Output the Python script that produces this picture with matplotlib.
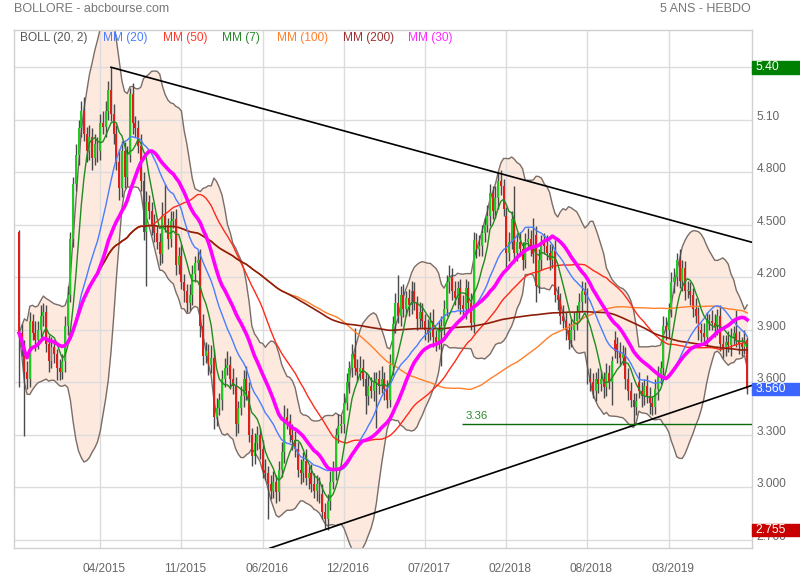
import numpy as np
import pandas as pd
import matplotlib
matplotlib.use("Agg")
import matplotlib.pyplot as plt
from matplotlib.patches import Rectangle
from matplotlib.transforms import blended_transform_factory

plt.rcParams['font.family'] = ['Liberation Sans', 'DejaVu Sans']

# weekly candles (5 ans - hebdo)
opens = [
    4.46, 3.88, 3.80, 3.66, 3.62, 3.95, 3.88, 3.84, 3.90, 3.98,
    4.00, 3.82, 3.72, 3.80, 3.76, 3.68, 3.66, 3.72, 3.92, 4.10,
    4.42, 4.73, 4.90, 5.05, 5.15, 5.02, 4.92, 5.00, 4.88, 4.96,
    4.92, 5.08, 5.06, 5.15, 5.27, 5.13, 5.02, 4.86, 4.71, 4.92,
    4.77, 4.90, 5.25, 5.08, 5.05, 4.95, 4.75, 4.46, 4.63, 4.58,
    4.50, 4.45, 4.40, 4.33, 4.55, 4.50, 4.42, 4.52, 4.53, 4.27,
    4.32, 4.17, 4.12, 4.05, 4.10, 4.22, 4.28, 4.30, 3.92, 3.75,
    3.78, 3.70, 3.74, 3.40, 3.45, 3.50, 3.62, 3.68, 3.70, 3.62,
    3.58, 3.36, 3.45, 3.52, 3.62, 3.55, 3.30, 3.18, 3.25, 3.30,
    3.22, 3.10, 3.08, 3.02, 2.98, 3.03, 2.97, 3.10, 3.20, 3.40,
    3.38, 3.30, 3.27, 3.22, 3.10, 3.08, 3.15, 3.05, 3.08, 3.02,
    2.98, 3.02, 2.96, 2.86, 2.82, 2.92, 3.03, 3.10, 3.30, 3.35,
    3.36, 3.48, 3.60, 3.68, 3.76, 3.68, 3.66, 3.68, 3.62, 3.52,
    3.58, 3.55, 3.60, 3.62, 3.58, 3.62, 3.56, 3.50, 3.70, 3.93,
    4.05, 3.98, 4.10, 4.02, 4.08, 4.04, 4.12, 4.05, 3.96, 4.00,
    3.95, 3.90, 3.88, 3.95, 3.86, 3.83, 3.90, 3.92, 4.02, 4.17,
    4.20, 4.12, 4.08, 4.14, 4.04, 4.02, 4.14, 4.05, 3.94, 4.41,
    4.36, 4.38, 4.45, 4.50, 4.55, 4.68, 4.58, 4.65, 4.75, 4.72,
    4.55, 4.34, 4.40, 4.53, 4.34, 4.40, 4.36, 4.30, 4.40, 4.42,
    4.38, 4.44, 4.15, 4.30, 4.40, 4.38, 4.34, 4.30, 4.35, 4.10,
    4.07, 3.98, 3.95, 3.90, 3.84, 3.90, 3.95, 4.00, 4.06, 4.12,
    4.10, 3.62, 3.60, 3.55, 3.62, 3.59, 3.62, 3.57, 3.65, 3.60,
    3.84, 3.82, 3.77, 3.74, 3.76, 3.62, 3.55, 3.50, 3.46, 3.60,
    3.55, 3.52, 3.58, 3.52, 3.48, 3.46, 3.56, 3.64, 3.68, 3.92,
    3.90, 4.01, 4.17, 4.20, 4.30, 4.18, 4.25, 4.12, 4.12, 4.10,
    4.02, 3.98, 3.90, 3.88, 3.86, 3.95, 3.95, 3.94, 3.92, 3.98,
    3.82, 3.80, 3.83, 3.81, 3.86, 3.88, 3.84, 3.82, 3.80, 3.84,
]
closes = [
    3.88, 3.80, 3.66, 3.62, 3.95, 3.88, 3.84, 3.90, 3.98, 4.00,
    3.82, 3.72, 3.80, 3.76, 3.68, 3.66, 3.72, 3.92, 4.10, 4.42,
    4.73, 4.90, 5.05, 5.15, 5.02, 4.92, 5.00, 4.88, 4.96, 4.92,
    5.08, 5.06, 5.15, 5.27, 5.13, 5.02, 4.86, 4.71, 4.92, 4.77,
    4.90, 5.25, 5.08, 5.05, 4.95, 4.75, 4.46, 4.63, 4.58, 4.50,
    4.45, 4.40, 4.33, 4.55, 4.50, 4.42, 4.52, 4.53, 4.27, 4.32,
    4.17, 4.12, 4.05, 4.10, 4.22, 4.28, 4.30, 3.92, 3.75, 3.78,
    3.70, 3.74, 3.40, 3.45, 3.50, 3.62, 3.68, 3.70, 3.62, 3.58,
    3.36, 3.45, 3.52, 3.62, 3.55, 3.30, 3.18, 3.25, 3.30, 3.22,
    3.10, 3.08, 3.02, 2.98, 3.03, 2.97, 3.10, 3.20, 3.40, 3.38,
    3.30, 3.27, 3.22, 3.10, 3.08, 3.15, 3.05, 3.08, 3.02, 2.98,
    3.02, 2.96, 2.86, 2.82, 2.92, 3.03, 3.10, 3.30, 3.35, 3.36,
    3.48, 3.60, 3.68, 3.76, 3.68, 3.66, 3.68, 3.62, 3.52, 3.58,
    3.55, 3.60, 3.62, 3.58, 3.62, 3.56, 3.50, 3.70, 3.93, 4.05,
    3.98, 4.10, 4.02, 4.08, 4.04, 4.12, 4.05, 3.96, 4.00, 3.95,
    3.90, 3.88, 3.95, 3.86, 3.83, 3.90, 3.92, 4.02, 4.17, 4.20,
    4.12, 4.08, 4.14, 4.04, 4.02, 4.14, 4.05, 3.94, 4.41, 4.36,
    4.38, 4.45, 4.50, 4.55, 4.68, 4.58, 4.65, 4.75, 4.72, 4.59,
    4.34, 4.40, 4.53, 4.34, 4.40, 4.36, 4.30, 4.40, 4.42, 4.38,
    4.33, 4.15, 4.30, 4.40, 4.38, 4.34, 4.30, 4.35, 4.10, 4.07,
    3.98, 3.95, 3.90, 3.84, 3.90, 3.95, 4.00, 4.06, 4.12, 4.10,
    3.62, 3.60, 3.55, 3.62, 3.59, 3.62, 3.57, 3.65, 3.60, 3.72,
    3.78, 3.77, 3.74, 3.76, 3.62, 3.55, 3.50, 3.46, 3.49, 3.55,
    3.52, 3.58, 3.52, 3.48, 3.46, 3.56, 3.64, 3.68, 3.92, 3.90,
    4.01, 4.17, 4.20, 4.30, 4.18, 4.25, 4.12, 4.12, 4.10, 4.02,
    3.98, 3.90, 3.88, 3.86, 3.95, 3.95, 3.94, 3.92, 3.98, 3.82,
    3.80, 3.83, 3.81, 3.86, 3.88, 3.84, 3.82, 3.80, 3.84, 3.56,
]
# upper / lower shadow lengths
wick_up = [
    0.01, 0.05, 0.04, 0.06, 0.05, 0.04, 0.07, 0.05, 0.06, 0.05,
    0.04, 0.05, 0.06, 0.04, 0.03, 0.05, 0.04, 0.06, 0.05, 0.04,
    0.04, 0.06, 0.05, 0.06, 0.08, 0.04, 0.07, 0.05, 0.06, 0.04,
    0.05, 0.07, 0.06, 0.05, 0.13, 0.06, 0.05, 0.07, 0.06, 0.05,
    0.05, 0.03, 0.06, 0.04, 0.05, 0.07, 0.05, 0.06, 0.04, 0.05,
    0.06, 0.04, 0.05, 0.08, 0.18, 0.04, 0.06, 0.05, 0.06, 0.05,
    0.07, 0.05, 0.04, 0.06, 0.05, 0.04, 0.05, 0.06, 0.07, 0.05,
    0.04, 0.07, 0.05, 0.06, 0.04, 0.05, 0.06, 0.08, 0.05, 0.06,
    0.05, 0.04, 0.06, 0.05, 0.07, 0.05, 0.04, 0.06, 0.05, 0.04,
    0.05, 0.06, 0.04, 0.05, 0.06, 0.04, 0.05, 0.06, 0.07, 0.05,
    0.04, 0.06, 0.05, 0.04, 0.06, 0.05, 0.07, 0.04, 0.05, 0.06,
    0.05, 0.04, 0.06, 0.05, 0.04, 0.06, 0.05, 0.04, 0.07, 0.05,
    0.06, 0.05, 0.04, 0.06, 0.15, 0.05, 0.07, 0.05, 0.04, 0.06,
    0.05, 0.06, 0.04, 0.05, 0.07, 0.04, 0.05, 0.06, 0.05, 0.06,
    0.16, 0.05, 0.06, 0.04, 0.05, 0.06, 0.05, 0.04, 0.06, 0.05,
    0.04, 0.06, 0.05, 0.07, 0.04, 0.05, 0.06, 0.05, 0.04, 0.07,
    0.05, 0.06, 0.04, 0.05, 0.06, 0.05, 0.04, 0.06, 0.05, 0.04,
    0.06, 0.05, 0.04, 0.06, 0.05, 0.04, 0.07, 0.05, 0.06, 0.04,
    0.05, 0.06, 0.05, 0.19, 0.05, 0.06, 0.04, 0.05, 0.06, 0.05,
    0.16, 0.05, 0.06, 0.04, 0.05, 0.06, 0.05, 0.04, 0.06, 0.05,
    0.04, 0.06, 0.05, 0.04, 0.06, 0.05, 0.04, 0.05, 0.06, 0.05,
    0.04, 0.06, 0.05, 0.04, 0.06, 0.05, 0.04, 0.06, 0.05, 0.03,
    0.05, 0.04, 0.06, 0.05, 0.04, 0.06, 0.05, 0.04, 0.05, 0.06,
    0.05, 0.04, 0.06, 0.05, 0.04, 0.06, 0.05, 0.04, 0.06, 0.05,
    0.04, 0.06, 0.05, 0.04, 0.06, 0.05, 0.04, 0.06, 0.05, 0.04,
    0.06, 0.05, 0.04, 0.06, 0.05, 0.04, 0.06, 0.05, 0.04, 0.06,
    0.05, 0.04, 0.06, 0.05, 0.04, 0.13, 0.05, 0.04, 0.06, 0.02,
]
wick_dn = [
    0.31, 0.05, 0.37, 0.06, 0.05, 0.04, 0.06, 0.05, 0.04, 0.06,
    0.05, 0.06, 0.04, 0.05, 0.07, 0.05, 0.04, 0.06, 0.05, 0.04,
    0.05, 0.04, 0.06, 0.05, 0.04, 0.06, 0.05, 0.07, 0.04, 0.06,
    0.05, 0.04, 0.06, 0.05, 0.04, 0.06, 0.05, 0.07, 0.05, 0.06,
    0.05, 0.04, 0.06, 0.05, 0.04, 0.06, 0.05, 0.31, 0.05, 0.06,
    0.05, 0.04, 0.06, 0.05, 0.04, 0.06, 0.05, 0.04, 0.06, 0.05,
    0.04, 0.06, 0.05, 0.04, 0.06, 0.05, 0.04, 0.06, 0.05, 0.04,
    0.06, 0.05, 0.07, 0.05, 0.04, 0.06, 0.05, 0.04, 0.06, 0.05,
    0.07, 0.05, 0.04, 0.06, 0.05, 0.04, 0.06, 0.05, 0.04, 0.06,
    0.05, 0.04, 0.20, 0.05, 0.04, 0.06, 0.05, 0.04, 0.06, 0.05,
    0.04, 0.06, 0.05, 0.04, 0.06, 0.05, 0.04, 0.06, 0.05, 0.04,
    0.06, 0.05, 0.04, 0.06, 0.065, 0.05, 0.04, 0.06, 0.05, 0.04,
    0.05, 0.04, 0.06, 0.05, 0.04, 0.06, 0.05, 0.04, 0.10, 0.05,
    0.04, 0.06, 0.26, 0.05, 0.04, 0.06, 0.05, 0.04, 0.06, 0.05,
    0.04, 0.06, 0.05, 0.04, 0.06, 0.05, 0.04, 0.06, 0.05, 0.04,
    0.06, 0.05, 0.04, 0.06, 0.05, 0.04, 0.21, 0.05, 0.04, 0.06,
    0.05, 0.04, 0.06, 0.05, 0.04, 0.06, 0.05, 0.04, 0.06, 0.05,
    0.04, 0.06, 0.05, 0.04, 0.06, 0.05, 0.04, 0.06, 0.05, 0.04,
    0.09, 0.05, 0.04, 0.06, 0.05, 0.04, 0.06, 0.05, 0.04, 0.06,
    0.05, 0.09, 0.04, 0.06, 0.05, 0.04, 0.06, 0.05, 0.04, 0.06,
    0.05, 0.04, 0.06, 0.05, 0.04, 0.06, 0.05, 0.04, 0.06, 0.05,
    0.03, 0.05, 0.04, 0.06, 0.05, 0.04, 0.06, 0.05, 0.04, 0.13,
    0.04, 0.06, 0.05, 0.04, 0.06, 0.05, 0.04, 0.10, 0.05, 0.04,
    0.06, 0.05, 0.04, 0.06, 0.05, 0.04, 0.06, 0.05, 0.04, 0.06,
    0.05, 0.04, 0.06, 0.05, 0.04, 0.06, 0.05, 0.04, 0.06, 0.05,
    0.04, 0.06, 0.05, 0.04, 0.06, 0.05, 0.04, 0.06, 0.05, 0.04,
    0.06, 0.05, 0.04, 0.06, 0.05, 0.04, 0.06, 0.05, 0.04, 0.03,
]

date_ticks = [30, 60, 90, 120, 150, 180, 210, 240]
date_labels = ["04/2015", "11/2015", "06/2016", "12/2016",
               "07/2017", "02/2018", "08/2018", "03/2019"]
price_ticks = [2.70, 3.00, 3.30, 3.60, 3.90, 4.20, 4.50, 4.80, 5.10, 5.40]
# 5.40 label sits fully under the green max box, so it is left out
price_labels = ["2.700", "3.000", "3.300", "3.600", "3.900",
                "4.200", "4.500", "4.800", "5.10", ""]

# trend lines (week, price) and support level
resist_pts = [(34, 5.40), (270.66, 4.40)]
support_pts = [(92.7, 2.651), (270.66, 3.581)]
support_level = 3.36
support_from = 163.7

ma_specs = [  # window, colour, width
    (100, "#ff7f2a", 1.0),
    (50, "#ff2a1a", 1.0),
    (200, "#8e1e0a", 1.2),
    (20, "#4a7dff", 1.0),
    (7, "#1e8c1e", 1.0),
    (30, "#ff00ff", 2.6),
]

o = np.array(opens)
c = np.array(closes)
hi = np.maximum(o, c) + np.array(wick_up)
lo = np.minimum(o, c) - np.array(wick_dn)
weeks = np.arange(len(c))
s = pd.Series(c)
mid = s.rolling(20, min_periods=1).mean()
sd = s.rolling(20, min_periods=1).std(ddof=0)
band_up = mid + 2 * sd
band_dn = mid - 2 * sd

W, H = 800, 580
fig = plt.figure(figsize=(8, 5.8), dpi=100)
L, R, T, B = 14.5, 751.7, 30, 548
ax = fig.add_axes([L / W, 1 - B / H, (R - L) / W, (B - T) / H])
ax.set_xlim(-1.66, 270.66)
ax.set_ylim(2.652, 5.613)

ax.set_xticks(date_ticks)
ax.set_yticks(price_ticks)
ax.set_axisbelow(True)
ax.grid(True, color="#dcdcdc", lw=1, zorder=0.5)
ax.tick_params(length=0, labelleft=False, labelbottom=False)
for sp in ax.spines.values():
    sp.set_color("#d0d0d0")
    sp.set_linewidth(1)

# bollinger
ax.fill_between(weeks, band_dn, band_up, color="#fde9de", lw=0, zorder=0.2)
ax.plot(weeks, band_up, color="#7a6d68", lw=1, zorder=1)
ax.plot(weeks, band_dn, color="#7a6d68", lw=1, zorder=1)

# candles
ax.vlines(weeks, lo, hi, color="#4a4a4a", lw=1, zorder=2)
up_mask = c >= o
body_h = np.maximum(np.abs(c - o), 0.008)
ax.bar(weeks[up_mask], body_h[up_mask], bottom=np.minimum(o, c)[up_mask],
       width=0.72, color="#22c922", lw=0, zorder=2.5)
ax.bar(weeks[~up_mask], body_h[~up_mask], bottom=np.minimum(o, c)[~up_mask],
       width=0.72, color="#df1f1c", lw=0, zorder=2.5)

for n, col, lw in ma_specs:
    ax.plot(weeks, s.rolling(n, min_periods=1).mean(), color=col, lw=lw, zorder=3)

# trend lines
(x0, y0), (x1, y1) = resist_pts
ax.plot([x0, x1], [y0, y1], color="black", lw=1.2, zorder=4)
(x0, y0), (x1, y1) = support_pts
ax.plot([x0, x1], [y0, y1], color="black", lw=1.2, zorder=4)
ax.hlines(support_level, support_from, 270.66, color="#0b6b0b", lw=1, zorder=4)
ax.annotate(f"{support_level:.2f}", xy=(support_from, support_level),
            xytext=(3, 3), textcoords="offset pixels", color="#2a8a2a",
            fontsize=8.2, ha="left", va="bottom", zorder=5)

# axis labels
for w, lab in zip(date_ticks, date_labels):
    ax.annotate(lab, xy=(w, 0), xycoords=("data", "axes fraction"),
                xytext=(4, -21), textcoords="offset pixels", ha="center",
                va="center", color="#666666", fontsize=8.6)
for v, lab in zip(price_ticks, price_labels):
    if lab:
        ax.annotate(lab, xy=(1, v), xycoords=("axes fraction", "data"),
                    xytext=(5, 3), textcoords="offset pixels", ha="left",
                    va="center", color="#666666", fontsize=8.6,
                    annotation_clip=False)

# value boxes on the right
trans = blended_transform_factory(ax.transAxes, ax.transData)
box_w = (W - R) / (R - L)
box_h = 12.5 / ((B - T) / (5.613 - 2.652))
for val, txt, col in [(hi.max(), f"{hi.max():.2f}", "#008000"),
                      (c[-1], f"{c[-1]:.3f}", "#3a66ff"),
                      (lo.min(), f"{lo.min():.3f}", "#c80000")]:
    ax.add_patch(Rectangle((1.001, val - box_h / 2), box_w, box_h,
                           transform=trans, color=col, clip_on=False, zorder=6))
    ax.annotate(txt, xy=(1, val), xycoords=("axes fraction", "data"),
                xytext=(4, 0), textcoords="offset pixels", ha="left",
                va="center", color="white", fontsize=8.8,
                annotation_clip=False, zorder=7)

# header
fig.text(14 / W, 1 - 9 / H, "BOLLORE - abcbourse.com", color="#777777",
         fontsize=9, ha="left", va="center")
fig.text(751 / W, 1 - 9 / H, "5 ANS - HEBDO", color="#777777",
         fontsize=9, ha="right", va="center")

legend = [("BOLL (20, 2)", "#555555", 20), ("MM (20)", "#4a7dff", 103),
          ("MM (50)", "#ff3a2a", 163), ("MM (7)", "#2a8a2a", 222),
          ("MM (100)", "#ff7f2a", 277), ("MM (200)", "#9a3030", 343),
          ("MM (30)", "#ff2aff", 408)]
for txt, col, px in legend:
    fig.text(px / W, 1 - 38.5 / H, txt, color=col, fontsize=8.6,
             ha="left", va="center")

fig.savefig("out.png", dpi=100)
